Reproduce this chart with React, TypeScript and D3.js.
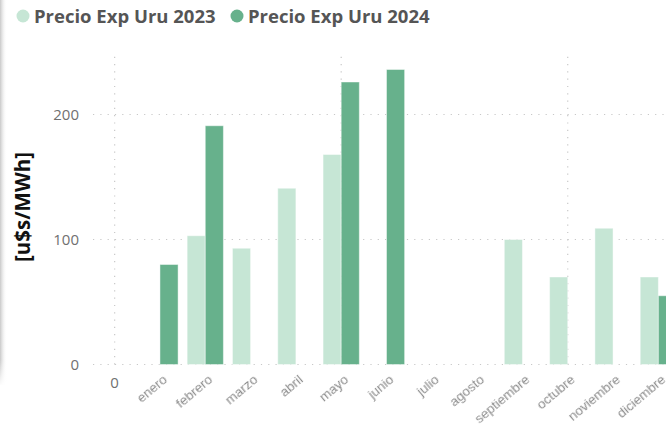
import React from "react";
import * as d3 from "d3";

const categories = ["0", "enero", "febrero", "marzo", "abril", "mayo", "junio", "julio", "agosto", "septiembre", "octubre", "noviembre", "diciembre"];
const seriesNames = ["Precio Exp Uru 2023", "Precio Exp Uru 2024"];
const values2023: (number | null)[] = [null, null, 103, 93, 141, 168, null, null, null, 100, 70, 109, 70];
const values2024: (number | null)[] = [null, 80, 191, null, null, 226, 236, null, null, null, null, null, 55];
const yTicks = [0, 100, 200];
const gridCategories = ["0", "mayo", "octubre"];
const colors = ["#c6e6d5", "#67b18c"];

const W = 666;
const H = 425;

export default function App() {
  const x = d3.scaleBand<string>().domain(categories).range([92, 681]).paddingInner(0.2).paddingOuter(0.1);
  const x1 = d3.scaleBand<string>().domain(["0", "1"]).range([0, x.bandwidth()]);
  const y = d3.scaleLinear().domain([0, 248]).range([364.5, 54.5]);
  const series = [values2023, values2024];
  const font = "'Open Sans', 'Noto Sans', sans-serif";

  return (
    <svg width={W} height={H} style={{ position: "absolute", left: 0, top: 0, background: "#fff" }}>
      <defs>
        <linearGradient id="shadowL" x1="0" x2="1" y1="0" y2="0">
          <stop offset="0" stopColor="#c8c8c8" />
          <stop offset="1" stopColor="#ffffff" stopOpacity="0" />
        </linearGradient>
        <linearGradient id="shadowB" x1="0" x2="0" y1="0" y2="1">
          <stop offset="0" stopColor="#ffffff" stopOpacity="0" />
          <stop offset="1" stopColor="#ffffff" stopOpacity="1" />
        </linearGradient>
        <filter id="blur" x="-10%" y="-10%" width="120%" height="120%">
          <feGaussianBlur stdDeviation="0.4" />
        </filter>
      </defs>
      <rect x={0} y={0} width={W} height={H} fill="#fff" />
      <rect x={0} y={0} width={7} height={385} fill="url(#shadowL)" />
      <rect x={0} y={360} width={8} height={26} fill="url(#shadowB)" />

      {/* horizontal gridlines */}
      {yTicks.map((t) => (
        <line key={"h" + t} x1={93} x2={W} y1={y(t)} y2={y(t)} stroke="#c8c8c8" strokeWidth={1.2} strokeDasharray="1.2 6.1" />
      ))}
      {/* vertical gridlines */}
      {gridCategories.map((c) => {
        const cx = (x(c) as number) + x.bandwidth() / 2;
        return <line key={"v" + c} x1={cx} x2={cx} y1={y(0)} y2={y(248)} stroke="#c8c8c8" strokeWidth={1.2} strokeDasharray="1.2 6.1" />;
      })}

      {/* bars */}
      {series.map((vals, si) =>
        vals.map((v, i) =>
          v == null ? null : (
            <rect
              key={si + "-" + i}
              x={(x(categories[i]) as number) + (x1(String(si)) as number)}
              y={y(v)}
              width={x1.bandwidth()}
              height={y(0) - y(v)}
              fill={colors[si]}
              stroke="#ffffff"
              strokeOpacity={0.45}
              strokeWidth={1}
            />
          )
        )
      )}

      {/* y tick labels */}
      {yTicks.map((t) => (
        <text key={"yt" + t} x={79} y={y(t)} dy="0.36em" textAnchor="end" fontFamily={font} fontSize={15} fill="#707070">
          {t}
        </text>
      ))}

      {/* y title */}
      <text
        transform={`translate(30,${207}) rotate(-90)`}
        textAnchor="middle"
        fontFamily={font}
        fontWeight="bold"
        fontSize={20.5}
        fill="#111"
      >
        [u$s/MWh]
      </text>

      {/* x labels */}
      {categories.map((c, i) => {
        const cx = (x(c) as number) + x.bandwidth() / 2;
        if (i === 0) {
          return (
            <text key={c} x={cx} y={388} textAnchor="middle" fontFamily={font} fontSize={15} fill="#707070">
              {c}
            </text>
          );
        }
        return (
          <text
            key={c}
            transform={`translate(${cx + 8},${381}) rotate(-40)`}
            textAnchor="end"
            fontFamily="'Liberation Sans', Arial, sans-serif"
            fontSize={13.5}
            fill="#8c8c8c"
            filter="url(#blur)"
          >
            {c}
          </text>
        );
      })}

      {/* legend */}
      {seriesNames.map((n, i) => {
        const lx = i === 0 ? 23 : 237;
        return (
          <g key={n}>
            <circle cx={lx} cy={16} r={6.5} fill={colors[i]} />
            <text x={lx + 11} y={16} dy="0.36em" fontFamily={font} fontWeight="bold" fontSize={18.5} fill="#555">
              {n}
            </text>
          </g>
        );
      })}
    </svg>
  );
}
